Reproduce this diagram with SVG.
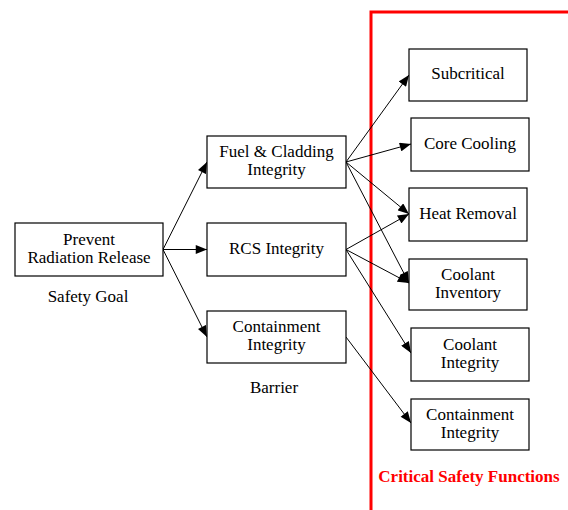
<svg xmlns="http://www.w3.org/2000/svg" width="568" height="510" viewBox="0 0 568 510">
<style>
.box{fill:#fff;stroke:#000;stroke-width:1.2}
.t{font-family:"Liberation Serif","Times New Roman",serif;font-size:17px;fill:#000;text-anchor:middle}
.c{stroke:#000;stroke-width:1;fill:none;marker-end:url(#ah)}
.red{font-family:"Liberation Serif","Times New Roman",serif;font-size:17px;font-weight:bold;fill:#f00;text-anchor:middle}
</style>
<defs>
<marker id="ah" viewBox="0 0 10 8" refX="10" refY="4" markerWidth="12" markerHeight="9" markerUnits="userSpaceOnUse" orient="auto">
<path d="M0,0 L10,4 L0,8 Z" fill="#000"/>
</marker>
</defs>
<rect width="568" height="510" fill="#fff"/>
<path d="M371,510 V12 H568" stroke="#f00" stroke-width="3" fill="none"/>
<g id="connectors">
<line class="c" x1="163" y1="249.5" x2="207" y2="162"/>
<line class="c" x1="163" y1="249.5" x2="207" y2="249.5"/>
<line class="c" x1="163" y1="249.5" x2="207" y2="337"/>
<line class="c" x1="346" y1="162" x2="409" y2="75"/>
<line class="c" x1="346" y1="162" x2="411" y2="144"/>
<line class="c" x1="346" y1="162" x2="409" y2="214"/>
<line class="c" x1="346" y1="162" x2="409" y2="283"/>
<line class="c" x1="346" y1="249.5" x2="409" y2="214"/>
<line class="c" x1="346" y1="249.5" x2="409" y2="283"/>
<line class="c" x1="346" y1="249.5" x2="411" y2="353"/>
<line class="c" x1="346" y1="337" x2="411" y2="423"/>
</g>
<g id="prevent"><rect class="box" x="15" y="223" width="148" height="53"/><text class="t" x="89" y="245">Prevent</text><text class="t" x="89" y="263">Radiation Release</text></g>
<g id="safety-goal-label"><text class="t" x="88" y="302">Safety Goal</text></g>
<g id="fuel"><rect class="box" x="207" y="136" width="139" height="52"/><text class="t" x="276.5" y="157">Fuel &amp; Cladding</text><text class="t" x="276.5" y="175">Integrity</text></g>
<g id="rcs"><rect class="box" x="207" y="223" width="139" height="53"/><text class="t" x="276.5" y="254">RCS Integrity</text></g>
<g id="containment-barrier"><rect class="box" x="207" y="311" width="139" height="52"/><text class="t" x="276.5" y="332">Containment</text><text class="t" x="276.5" y="350">Integrity</text></g>
<g id="barrier-label"><text class="t" x="274" y="393">Barrier</text></g>
<g id="subcritical"><rect class="box" x="409" y="49" width="118" height="52"/><text class="t" x="468" y="79">Subcritical</text></g>
<g id="core-cooling"><rect class="box" x="411" y="118" width="118" height="53"/><text class="t" x="470" y="149">Core Cooling</text></g>
<g id="heat-removal"><rect class="box" x="409" y="188" width="118" height="53"/><text class="t" x="468" y="219">Heat Removal</text></g>
<g id="coolant-inventory"><rect class="box" x="409" y="259" width="118" height="51"/><text class="t" x="468" y="280">Coolant</text><text class="t" x="468" y="298">Inventory</text></g>
<g id="coolant-integrity"><rect class="box" x="411" y="328" width="118" height="53"/><text class="t" x="470" y="350">Coolant</text><text class="t" x="470" y="368">Integrity</text></g>
<g id="containment-integrity"><rect class="box" x="411" y="399" width="118" height="51"/><text class="t" x="470" y="420">Containment</text><text class="t" x="470" y="438">Integrity</text></g>
<g id="csf-label"><text class="red" x="469" y="482">Critical Safety Functions</text></g>
</svg>
